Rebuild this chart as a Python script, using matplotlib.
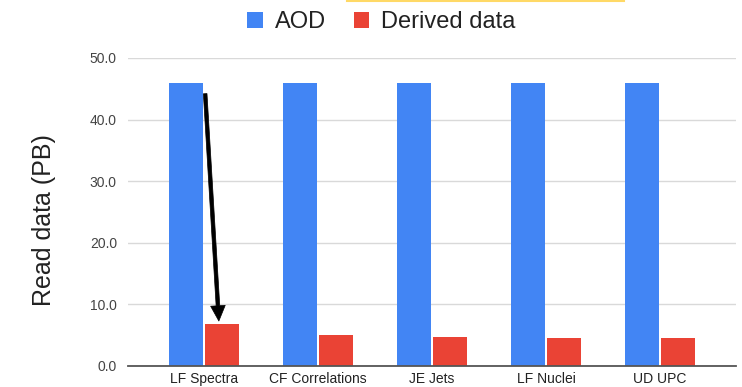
import numpy as np
import matplotlib
matplotlib.use("Agg")
from matplotlib import pyplot as plt
from matplotlib.lines import Line2D

plt.rcParams['font.family'] = ['Liberation Sans', 'DejaVu Sans']

# read volume per analysis group
groups = ['LF Spectra', 'CF Correlations', 'JE Jets', 'LF Nuclei', 'UD UPC']
aod = [46.0, 46.0, 46.0, 46.0, 46.0]
derived = [6.8, 5.1, 4.7, 4.5, 4.5]

blue = '#4285F4'
red = '#EA4335'

fig = plt.figure(figsize=(7.42, 3.87), dpi=100)
ax = fig.add_axes([0.1725, 0.0543, 0.8195, 0.7959])

x = np.arange(len(groups))
w = 0.3
ax.bar(x - 0.158, aod, w, color=blue, label='AOD', zorder=3)
ax.bar(x + 0.158, derived, w, color=red, label='Derived data', zorder=3)

ax.set_xlim(-0.667, 4.667)
ax.set_ylim(0, 50)
ax.set_yticks(np.arange(0, 51, 10))
ax.set_yticklabels(['%.1f' % v for v in np.arange(0, 51, 10)], color='#444444', fontsize=10)
ax.set_xticks(x)
ax.set_xticklabels(groups, color='#222222', fontsize=10)
ax.tick_params(axis='both', length=0)
ax.tick_params(axis='y', pad=8)
ax.tick_params(axis='x', pad=4)

ax.grid(axis='y', color='#d9d9d9', linewidth=1, zorder=0)
for s in ['top', 'right', 'left']:
    ax.spines[s].set_visible(False)
ax.spines['bottom'].set_color('#555555')
ax.spines['bottom'].set_linewidth(1.3)
ax.spines['bottom'].set_zorder(4)

ax.set_ylabel('Read data (PB)', fontsize=18, color='#222222', labelpad=24)
ax.yaxis.label.set_y(0.475)

# arrow pointing from the AOD bar down to the derived bar
ax.annotate('', xy=(0.13, 7.3), xytext=(0.01, 44.2),
            arrowprops=dict(width=2.6, headwidth=10.5, headlength=11,
                            facecolor='black', edgecolor='black', lw=0.5,
                            shrink=0),
            zorder=5)

fig.legend(loc='center', bbox_to_anchor=(0.514, 0.943), ncol=2, frameon=False,
           fontsize=17, handlelength=0.65, handleheight=0.65, handletextpad=0.5,
           columnspacing=1.2, labelcolor='#222222')

# thin yellow strip along the top edge
fig.add_artist(Line2D([347 / 742, 624 / 742], [0.998, 0.998],
                      transform=fig.transFigure, color='#FFD966', lw=1.5))

plt.savefig('out.png', dpi=100)
